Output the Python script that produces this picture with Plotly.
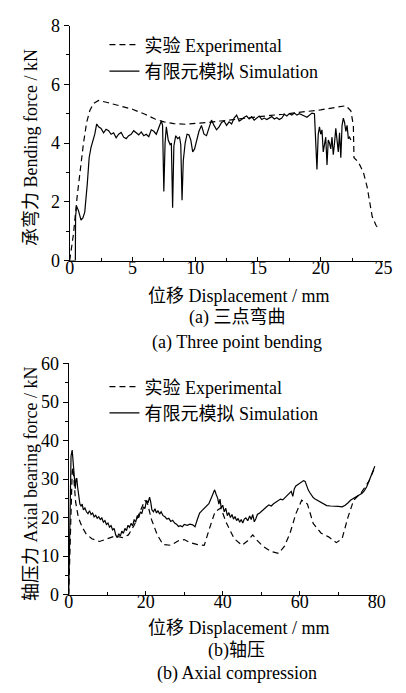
import plotly.graph_objects as go

# ---------------- data: (a) three point bending ----------------
bend_exp_x = [0.0, 0.3, 0.6, 0.9, 1.1, 1.35, 1.6, 1.9, 2.3, 3.0, 4.0, 5.0, 6.0, 6.8, 7.5, 8.3, 9.2,
              10.0, 11.0, 12.0, 13.0, 14.0, 15.0, 16.0, 17.0, 18.0, 19.0, 20.0, 21.0, 22.0, 22.4,
              22.6, 22.65, 23.0, 23.4, 23.7, 23.9, 24.1, 24.4, 24.6]
bend_exp_y = [0.0, 0.9, 2.2, 3.4, 4.0, 4.7, 5.1, 5.35, 5.45, 5.38, 5.27, 5.15, 4.98, 4.82, 4.72, 4.66, 4.64,
              4.66, 4.7, 4.75, 4.8, 4.86, 4.9, 4.94, 4.98, 5.02, 5.08, 5.13, 5.2, 5.27, 5.1,
              4.6, 3.5, 3.35, 3.0, 2.5, 2.0, 1.5, 1.2, 1.1]

bend_sim_x = [0, 0.45, 0.47, 0.55, 0.7, 0.9, 1.05, 1.2, 1.4, 1.55, 1.7, 1.85, 2.0, 2.15, 2.3, 2.5, 2.7,
              2.9, 3.1, 3.3, 3.5, 3.7, 3.9, 4.1, 4.3, 4.5, 4.7, 4.9, 5.1, 5.3, 5.5, 5.7, 5.9, 6.1,
              6.3, 6.5, 6.7, 6.9, 7.1, 7.3, 7.4, 7.5, 7.6, 7.7, 7.85, 8.0, 8.1, 8.2, 8.3, 8.45, 8.6,
              8.75, 8.85, 8.95, 9.05, 9.2, 9.35, 9.5, 9.65, 9.8, 9.95, 10.1, 10.3, 10.5, 10.7, 10.9,
              11.1, 11.3, 11.5, 11.7, 11.9, 12.1, 12.3, 12.5, 12.7, 12.9, 13.1, 13.3, 13.5, 13.7,
              13.9, 14.1, 14.3, 14.5, 14.7, 14.9, 15.1, 15.3, 15.5, 15.7, 15.9, 16.1, 16.3, 16.5,
              16.7, 16.9, 17.1, 17.3, 17.5, 17.7, 17.9, 18.1, 18.3, 18.5, 18.7, 18.9, 19.1, 19.3,
              19.5, 19.6, 19.7, 19.8, 19.9, 20.0, 20.1, 20.2, 20.3, 20.4, 20.5, 20.6, 20.7, 20.8,
              20.9, 21.0, 21.1, 21.2, 21.3, 21.4, 21.5, 21.6, 21.7, 21.8, 21.9, 22.0, 22.1, 22.2,
              22.3, 22.4]
bend_sim_y = [0, 0, 1.5, 1.85, 1.7, 1.38, 1.45, 1.65, 2.6, 3.5, 3.85, 4.05, 4.3, 4.65, 4.55, 4.5, 4.35,
              4.47, 4.42, 4.3, 4.35, 4.18, 4.3, 4.36, 4.2, 4.15, 4.25, 4.3, 4.42, 4.35, 4.28, 4.38, 4.25, 4.3,
              4.22, 4.45, 4.4, 4.3, 4.5, 4.75, 4.6, 2.35, 4.0, 4.55, 4.1, 3.95, 4.0, 1.8, 3.9, 4.25, 4.15,
              4.2, 3.95, 2.05, 3.4, 4.0, 4.3, 4.28, 4.1, 3.7, 3.8, 4.1, 4.4, 4.6, 4.3, 4.25,
              4.5, 4.78, 4.6, 4.45, 4.55, 4.7, 4.75, 4.6, 4.72, 4.65, 4.85, 4.95, 4.75, 4.8,
              4.88, 4.92, 4.82, 4.9, 4.78, 4.85, 4.92, 4.8, 4.85, 4.8, 4.85, 4.9, 4.82, 4.86,
              4.8, 4.85, 4.98, 4.92, 5.0, 4.95, 5.02, 4.95, 5.0, 4.97, 4.92, 4.88, 4.95, 5.02,
              5.0, 3.7, 3.1, 4.3, 4.55, 4.3, 4.45, 3.7, 3.95, 4.2, 3.25, 4.1, 4.0, 3.8,
              4.2, 3.6, 4.0, 4.5, 4.1, 3.7, 4.35, 3.5, 4.6, 4.85, 4.7, 4.4, 4.6, 4.15,
              4.2, 4.1]

# ---------------- data: (b) axial compression ----------------
axial_exp_x = [0, 0.25, 0.5, 0.7, 0.9, 1.1, 1.4, 1.8, 2.5, 3.5, 4.5, 6, 8, 10, 12, 14, 15.5, 17, 18.5,
               19.8, 20.5, 21.5, 23, 24.5, 26.5, 28.5, 30, 31.5, 33.5, 35.2, 36.5, 38, 39.5, 41, 43,
               45, 46.5, 47.8, 49, 50.5, 52.5, 54.5, 56, 57.5, 59, 60.5, 62, 63.5, 65.5, 67.5, 69.5,
               71, 72.5, 74, 76, 78, 79.5]
axial_exp_y = [0, 8, 20, 28, 32, 33, 29, 24, 20, 17.5, 15.8, 14.5, 13.8, 14.5, 15.2, 14.8, 15.5, 18, 21.5,
               24.5, 23.5, 19.5, 15.5, 13, 12.8, 14, 14.3, 13.5, 13, 12.8, 17, 21.5, 22.5, 18.5, 14.5,
               12.8, 14, 15.5, 14, 12.5, 11.2, 10.7, 12.5, 16, 21, 24.5, 23.5, 18.5, 16, 15, 13.5,
               14.5, 20, 24.5, 26.5, 29.5, 33]

axial_sim_x = [0, 0.2, 0.4, 0.6, 0.9, 1.1, 1.3, 1.5, 1.7, 1.9, 2.1, 2.3, 2.6, 2.9, 3.2, 3.5, 3.8, 4.2,
               4.6, 5.0, 5.4, 5.8, 6.2, 6.6, 7.0, 7.4, 7.8, 8.2, 8.6, 9.0, 9.4, 9.8, 10.2, 10.6, 11.0,
               11.4, 11.8, 12.2, 12.6, 13.0, 13.4, 13.8, 14.2, 14.6, 15.0, 15.4, 15.8, 16.2, 16.6, 17.0,
               17.4, 17.8, 18.2, 18.6, 19.0, 19.4, 19.8, 20.2, 20.6, 21.0, 21.3, 21.6, 22.0, 22.4, 22.8,
               23.2, 23.6, 24.0, 24.5, 25.0, 25.5, 26.0, 26.5, 27.0, 27.5, 28.0, 28.5, 29.0, 29.5, 30.0,
               30.8, 31.5, 32.2, 32.8, 33.4, 34.0, 34.6, 35.2, 35.8, 36.4, 37.0, 37.5, 37.9, 38.3, 38.7,
               39.0, 39.3, 39.6, 40.0, 40.4, 40.8, 41.2, 41.6, 42.0, 42.4, 42.8, 43.2, 43.6, 44.0, 44.4,
               44.8, 45.2, 45.6, 46.0, 46.5, 47.0, 47.4, 47.8, 48.2, 48.6, 49.0, 49.6, 50.2, 50.8, 51.4,
               52.0, 52.6, 53.2, 53.8, 54.4, 55.0, 55.6, 56.2, 56.8, 57.4, 57.8, 58.2, 58.6, 59.0, 59.5,
               60.0, 60.5, 61.0, 61.4, 61.8, 62.2, 62.6, 63.0, 63.5, 64.0, 64.5, 65.0, 65.5, 66.0, 66.5,
               67.0, 68.0, 69.0, 70.0, 71.0, 71.8, 72.5, 73.2, 74.0, 74.8, 75.5, 76.2, 76.8, 77.4, 78.0,
               78.6, 79.0, 79.5]
axial_sim_y = [0, 15, 30, 36, 37.5, 35, 31, 28.5, 27.5, 30, 30.2, 28, 25, 23.5, 23, 23.5, 22, 22.5,
               21.5, 21, 21.8, 20.8, 21.2, 20.2, 20.6, 19.8, 20.2, 19.5, 19.9, 18.8, 19.2, 18.2, 18.6, 17.5, 17.9,
               16.8, 17.2, 15.5, 14.8, 15.8, 15.2, 16.5, 15.9, 17.2, 16.6, 18.0, 17.5, 18.5, 17.8, 19.5,
               18.8, 20.5, 20.0, 21.5, 21.0, 22.8, 22.3, 24.5, 23.8, 25.3, 24.0, 22.0, 21.5, 22.3, 21.2,
               21.8, 20.9, 21.5, 20.5, 20.2, 19.6, 19.8, 19.0, 19.3, 18.6, 18.3, 17.7, 17.9, 17.6, 18.2,
               18.0, 18.3, 18.1, 17.6, 19.5, 21.2, 21.8, 22.4, 23.0, 23.6, 25.0, 26.5, 27.2, 26.0, 25.0,
               23.5, 24.8, 22.5, 23.2, 21.5, 22.4, 20.5, 21.3, 20.0, 20.8, 19.6, 20.3, 19.2, 19.8, 18.8,
               19.5, 18.6, 19.6, 19.9, 19.2, 20.4, 19.5, 20.8, 18.9, 19.7, 20.8, 21.2, 21.8, 22.4, 22.8,
               23.3, 23.0, 23.6, 24.0, 24.3, 24.8, 24.6, 25.2, 25.8, 26.4, 26.8, 25.5, 27.5, 28.2, 28.6,
               29.0, 29.3, 29.6, 29.4, 28.0, 27.2, 26.5, 25.8, 25.2, 24.8, 24.5, 24.2, 24.0, 23.7, 23.4,
               23.1, 23.0, 23.0, 22.9, 22.8, 23.2, 23.8, 24.5, 25.0, 25.4, 25.8, 26.3, 27.0, 28.0, 29.5,
               31.0, 32.0, 33.3]

name_exp = "实验 Experimental"
name_sim = "有限元模拟 Simulation"
bend_xticks = [0, 5, 10, 15, 20, 25]
bend_yticks = [0, 2, 4, 6, 8]
axial_xticks = [0, 20, 40, 60, 80]
axial_yticks = [0, 10, 20, 30, 40, 50, 60]

W, H = 406, 693
FONT = "Liberation Serif, Times New Roman, Noto Sans CJK SC, serif"


def py(px):
    return 1 - px / H


def pxx(px):
    return px / W


fig = go.Figure()
line_exp = dict(color="black", width=1.2, dash="6px,4px")
line_sim = dict(color="black", width=1.2)

fig.add_trace(go.Scatter(x=bend_exp_x, y=bend_exp_y, mode="lines", line=line_exp, name=name_exp,
                         xaxis="x", yaxis="y", legend="legend"))
fig.add_trace(go.Scatter(x=bend_sim_x, y=bend_sim_y, mode="lines", line=line_sim, name=name_sim,
                         xaxis="x", yaxis="y", legend="legend"))
fig.add_trace(go.Scatter(x=axial_exp_x, y=axial_exp_y, mode="lines", line=line_exp, name=name_exp,
                         xaxis="x2", yaxis="y2", legend="legend2"))
fig.add_trace(go.Scatter(x=axial_sim_x, y=axial_sim_y, mode="lines", line=line_sim, name=name_sim,
                         xaxis="x2", yaxis="y2", legend="legend2"))

base = dict(showline=True, linecolor="black", linewidth=1, showgrid=False, zeroline=False,
            tickwidth=1, tickcolor="black", tickfont=dict(family=FONT, size=18, color="black"))
xcommon = dict(ticks="inside", ticklen=4, ticklabelstandoff=-9, **base)
ycommon = dict(ticks="outside", ticklen=5, **base)

fig.update_layout(
    width=W, height=H, margin=dict(l=0, r=0, t=0, b=0),
    paper_bgcolor="white", plot_bgcolor="white",
    font=dict(family=FONT, size=18, color="black"),
    xaxis=dict(domain=[pxx(67), pxx(392)], range=[0, 25], tickvals=bend_xticks, anchor="y",
               minor=dict(dtick=2.5, ticks="inside", ticklen=3, tickcolor="black"), **xcommon),
    yaxis=dict(domain=[py(258), py(16)], range=[0, 8], tickvals=bend_yticks, anchor="x",
               minor=dict(dtick=1, ticks="outside", ticklen=3, tickcolor="black"), **ycommon),
    xaxis2=dict(domain=[pxx(66), pxx(385)], range=[0, 80], tickvals=axial_xticks, anchor="y2",
                minor=dict(dtick=10, ticks="inside", ticklen=3, tickcolor="black"), **xcommon),
    yaxis2=dict(domain=[py(602), py(364)], range=[0, 60], tickvals=axial_yticks, anchor="x2",
                minor=dict(dtick=5, ticks="outside", ticklen=3, tickcolor="black"), **ycommon),
    legend=dict(x=pxx(103), y=py(17), xanchor="left", yanchor="top", bgcolor="rgba(0,0,0,0)",
                font=dict(family=FONT, size=18), itemwidth=30, tracegroupgap=0, traceorder="normal"),
    legend2=dict(x=pxx(103), y=py(369), xanchor="left", yanchor="top", bgcolor="rgba(0,0,0,0)",
                 font=dict(family=FONT, size=18), itemwidth=30, tracegroupgap=0, traceorder="normal"),
    showlegend=True,
)

texts = [
    ("位移 Displacement / mm", 242, 294, 0),
    ("(a) 三点弯曲", 240, 317, 0),
    ("(a) Three point bending", 240, 342, 0),
    ("位移 Displacement / mm", 242, 636, 0),
    ("(b)轴压", 240, 660, 0),
    ("(b) Axial compression", 240, 683, 0),
    ("承弯力 Bending force / kN", 27, 142, -90),
    ("轴压力 Axial bearing force / kN", 27, 488, -90),
]
for t, x, y, ang in texts:
    fig.add_annotation(text=t, x=pxx(x), y=py(y), xref="paper", yref="paper", showarrow=False,
                       xanchor="center", yanchor="middle", textangle=ang,
                       font=dict(family=FONT, size=18, color="black"))

fig.write_html("out.html")
